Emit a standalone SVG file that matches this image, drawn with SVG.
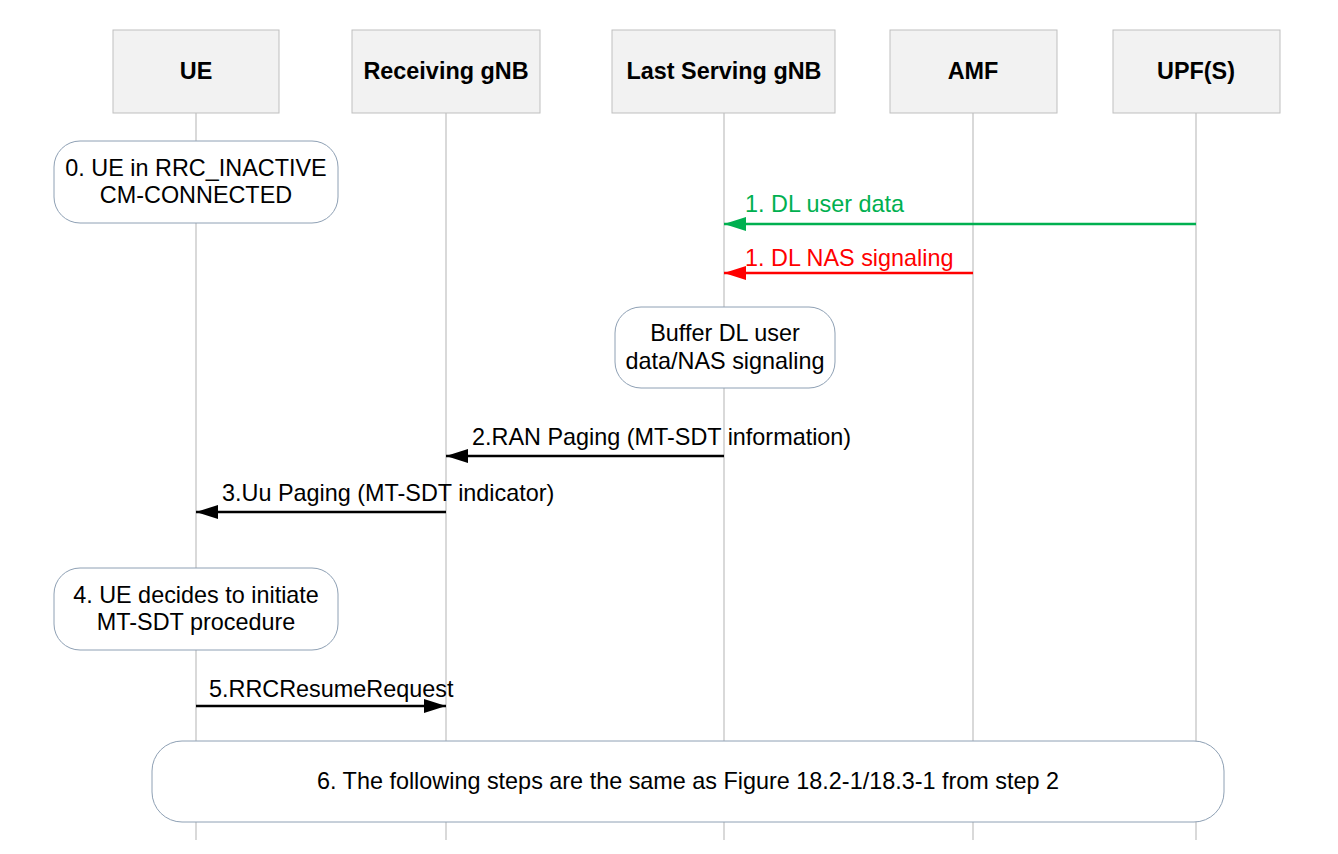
<svg xmlns="http://www.w3.org/2000/svg" width="1338" height="854" viewBox="0 0 1338 854">
<style>
.box{fill:#f2f2f2;stroke:#bfbfbf;stroke-width:1}
.note{fill:#fff;stroke:#8ea0b4;stroke-width:1}
.life{stroke:#c0c0c0;stroke-width:1.2}
.hd{font-family:"Liberation Sans",Arial,sans-serif;font-size:23.4px;font-weight:bold;text-anchor:middle;fill:#000}
.t{font-family:"Liberation Sans",Arial,sans-serif;font-size:23.4px;fill:#000}
.c{text-anchor:middle}
</style>
<defs>
<marker id="ag" markerWidth="22" markerHeight="14" refX="22" refY="7" orient="auto" markerUnits="userSpaceOnUse"><path d="M0,0L22,7L0,14z" fill="#00b050"/></marker>
<marker id="ar" markerWidth="22" markerHeight="14" refX="22" refY="7" orient="auto" markerUnits="userSpaceOnUse"><path d="M0,0L22,7L0,14z" fill="#ff0000"/></marker>
<marker id="ak" markerWidth="22" markerHeight="14" refX="22" refY="7" orient="auto" markerUnits="userSpaceOnUse"><path d="M0,0L22,7L0,14z" fill="#000"/></marker>
</defs>
<rect width="1338" height="854" fill="#fff"/>
<g id="lifelines">
<line class="life" x1="196" y1="113" x2="196" y2="840"/>
<line class="life" x1="446" y1="113" x2="446" y2="840"/>
<line class="life" x1="724" y1="113" x2="724" y2="840"/>
<line class="life" x1="973" y1="113" x2="973" y2="840"/>
<line class="life" x1="1196" y1="113" x2="1196" y2="840"/>
</g>
<g id="n-ue"><rect class="box" x="113" y="30" width="166" height="83"/><text class="hd" x="196" y="79">UE</text></g>
<g id="n-rx"><rect class="box" x="352" y="30" width="188" height="83"/><text class="hd" x="446" y="79">Receiving gNB</text></g>
<g id="n-last"><rect class="box" x="612" y="30" width="223" height="83"/><text class="hd" x="724" y="79">Last Serving gNB</text></g>
<g id="n-amf"><rect class="box" x="890" y="30" width="167" height="83"/><text class="hd" x="973" y="79">AMF</text></g>
<g id="n-upf"><rect class="box" x="1113" y="30" width="167" height="83"/><text class="hd" x="1196" y="79">UPF(S)</text></g>
<g id="note0"><rect class="note" x="54" y="141" width="284" height="82" rx="26"/><text class="t c" x="196" y="176">0. UE in RRC_INACTIVE</text><text class="t c" x="196" y="203">CM-CONNECTED</text></g>
<g id="note-buf"><rect class="note" x="615" y="307" width="220" height="81" rx="26"/><text class="t c" x="725" y="341">Buffer DL user</text><text class="t c" x="725" y="369">data/NAS signaling</text></g>
<g id="note4"><rect class="note" x="54" y="568" width="284" height="82" rx="26"/><text class="t c" x="196" y="603">4. UE decides to initiate</text><text class="t c" x="196" y="630">MT-SDT procedure</text></g>
<g id="note6"><rect class="note" x="152" y="741" width="1072" height="81" rx="30"/><text class="t c" x="688" y="789">6. The following steps are the same as Figure 18.2-1/18.3-1 from step 2</text></g>
<g id="connectors">
<line x1="1196" y1="224" x2="724" y2="224" stroke="#00b050" stroke-width="2.5" marker-end="url(#ag)"/>
<text class="t" x="745" y="212" style="fill:#00b050">1. DL user data</text>
<line x1="973" y1="273" x2="724" y2="273" stroke="#ff0000" stroke-width="2.5" marker-end="url(#ar)"/>
<text class="t" x="745" y="266" style="fill:#ff0000">1. DL NAS signaling</text>
<line x1="724" y1="456" x2="446" y2="456" stroke="#000" stroke-width="2.5" marker-end="url(#ak)"/>
<text class="t" x="472" y="445">2.RAN Paging (MT-SDT information)</text>
<line x1="446" y1="512" x2="196" y2="512" stroke="#000" stroke-width="2.5" marker-end="url(#ak)"/>
<text class="t" x="222" y="501">3.Uu Paging (MT-SDT indicator)</text>
<line x1="196" y1="706" x2="446" y2="706" stroke="#000" stroke-width="2.5" marker-end="url(#ak)"/>
<text class="t" x="209" y="697">5.RRCResumeRequest</text>
</g>
</svg>
